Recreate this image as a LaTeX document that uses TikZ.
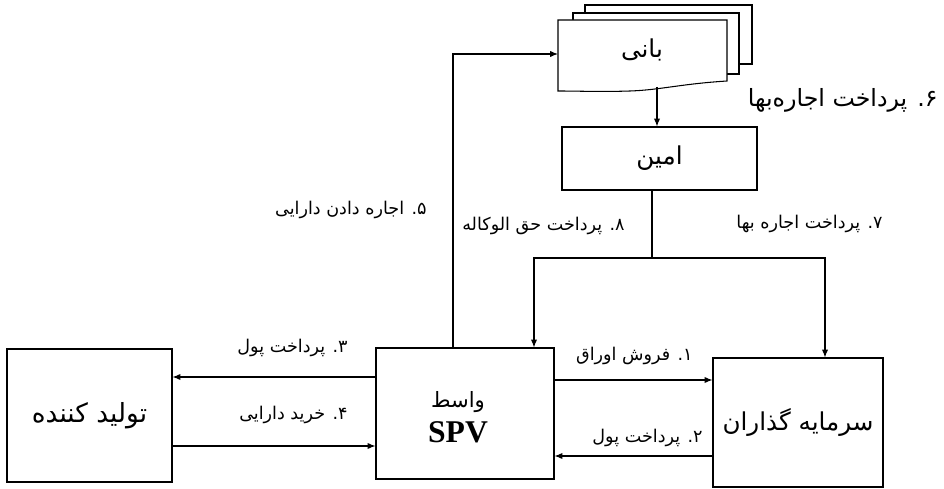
\documentclass[tikz,border=0pt]{standalone}
\usepackage{fontspec}
\setmainfont{Liberation Serif}
\newfontfamily\arabicfont[Script=Arabic]{DejaVu Sans}
\TeXXeTstate=1
\usetikzlibrary{arrows.meta}
\usetikzlibrary{positioning}

\begin{document}
\begin{tikzpicture}[x=0.2mm, y=-0.2mm,
  box/.style={draw, line width=0.6pt, rectangle, inner sep=0pt},
  arr/.style={line width=0.6pt, -{Latex[length=4.5pt,width=3.6pt]}},
  lbl/.style={font=\arabicfont\fontsize{10}{11}\selectfont, inner sep=0pt, anchor=east}]
  \useasboundingbox (0,0) rectangle (944,489);

  % main boxes
  \node[box, minimum width=33mm, minimum height=26.6mm] (Producer) at (89.5,415.5)
    {\arabicfont\fontsize{15}{17}\selectfont\beginR تولید کننده\endR};
  \node[box, minimum width=35.6mm, minimum height=26.2mm] (Spv) at (465,413.5) {};
  \node (SpvName) at (458,402) {\arabicfont\fontsize{12}{14}\selectfont\beginR واسط\endR};
  \node (SpvCode) at (458,432) {\fontsize{18}{20}\selectfont\bfseries SPV};
  \node[box, minimum width=34mm, minimum height=25.8mm] (Investors) at (798,422.5)
    {\arabicfont\fontsize{14}{16}\selectfont\beginR سرمایه گذاران\endR};
  \node[box, minimum width=39mm, minimum height=12.6mm] (Amin) at (659.5,158.5)
    {\arabicfont\fontsize{14}{16}\selectfont\beginR امین\endR};

  % document stack
  \draw[line width=0.6pt] (585,13) -- (585,5) -- (752,5) -- (752,64) -- (739,64);
  \draw[line width=0.6pt] (573,20) -- (573,13) -- (739,13) -- (739,74) -- (727,74);
  \draw[line width=0.6pt, fill=white] (558,20) -- (727,20) -- (727,81)
    .. controls (680,84) and (660,90) .. (630,91)
    .. controls (600,92) and (580,91) .. (558,91) -- cycle;
  \node (Bani) at (642,50) {\arabicfont\fontsize{14}{16}\selectfont\beginR بانی\endR};
  \coordinate (BaniIn) at (558,54);
  \coordinate (BaniOut) at (657,87);
  \coordinate (Split) at (652,258);

  % connectors
  \draw[arr] ([xshift=-2.4mm]Spv.north) |- (BaniIn);
  \draw[arr] (BaniOut) -- (BaniOut |- Amin.north);
  \draw[line width=0.6pt] (Amin.south -| Split) -- (Split);
  \draw[arr] (Split) -| ([xshift=13.8mm]Spv.north);
  \draw[arr] (Split) -| ([xshift=5.4mm]Investors.north);
  \draw[arr] ([yshift=7.3mm]Spv.west) -- ([yshift=7.3mm]Spv.west -| Producer.east);
  \draw[arr] ([yshift=-6.5mm]Spv.west -| Producer.east) -- ([yshift=-6.5mm]Spv.west);
  \draw[arr] ([yshift=6.7mm]Spv.east) -- ([yshift=6.7mm]Spv.east -| Investors.west);
  \draw[arr] ([yshift=-8.5mm]Spv.east -| Investors.west) -- ([yshift=-8.5mm]Spv.east);

  % labels
  \node[lbl] (StepOne)   at (693,356) {\beginR ۱. فروش اوراق\endR};
  \node[lbl] (StepTwo)   at (703,438) {\beginR ۲. پرداخت پول\endR};
  \node[lbl] (StepThree) at (348,348) {\beginR ۳. پرداخت پول\endR};
  \node[lbl] (StepFour)  at (348,415) {\beginR ۴. خرید دارایی\endR};
  \node[lbl] (StepFive)  at (427,210) {\beginR ۵. اجاره دادن دارایی\endR};
  \node[lbl, font=\arabicfont\fontsize{13.5}{15}\selectfont] (StepSix) at (938,100)
    {\beginR ۶. پرداخت اجاره‌بها\endR};
  \node[lbl] (StepSeven) at (883,224) {\beginR ۷. پرداخت اجاره بها\endR};
  \node[lbl] (StepEight) at (625,226) {\beginR ۸. پرداخت حق الوکاله\endR};
\end{tikzpicture}
\end{document}
